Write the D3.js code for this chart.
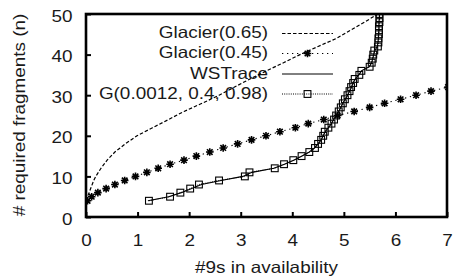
<!DOCTYPE html>
<html>
<head>
<meta charset="utf-8">
<script src="https://cdn.jsdelivr.net/npm/d3@7"></script>
<style>
  body { margin: 0; background: #fff; }
  svg { display: block; }
  text { font-family: "Liberation Sans", Arial, sans-serif; font-size: 16.3px; fill: #1a1a1a; }
</style>
</head>
<body>
<div id="chart"></div>
<script>
const xTicks = [0, 1, 2, 3, 4, 5, 6, 7];
const yTicks = [0, 10, 20, 30, 40, 50];

// Glacier(0.65): dashed curve, (availability, n)
const glacier65V = [0, 0.03, 0.06, 0.09, 0.12, 0.15, 0.19, 0.29, 0.41, 0.56, 0.76, 0.99, 1.29, 1.60, 1.90, 2.25, 2.58, 2.88, 3.18, 3.50, 3.83, 4.15, 4.50, 4.86, 5.13, 5.40, 5.66];
const glacier65N = [4, 5, 6, 7, 8, 9, 10, 12, 14, 16, 18, 20, 22, 24, 26, 28, 30, 32, 34, 36, 38, 40, 42, 44, 46, 48, 50];

// Glacier(0.45): dotted with star markers, n = 4..32
const glacier45V = [0.03, 0.11, 0.23, 0.39, 0.56, 0.75, 0.96, 1.18, 1.40, 1.63, 1.90, 2.14, 2.40, 2.66, 2.94, 3.21, 3.49, 3.76, 4.06, 4.31, 4.61, 4.88, 5.20, 5.50, 5.79, 6.10, 6.40, 6.69, 7.02];
const glacier45N = [4, 5, 6, 7, 8, 9, 10, 11, 12, 13, 14, 15, 16, 17, 18, 19, 20, 21, 22, 23, 24, 25, 26, 27, 28, 29, 30, 31, 32];

// WSTrace: solid, n = 4..50
const wsTraceV = [1.20, 1.60, 1.85, 2.05, 2.24, 2.62, 3.04, 3.22, 3.64, 3.85, 4.03, 4.19, 4.33, 4.43, 4.50, 4.56, 4.60, 4.64, 4.70, 4.76, 4.80, 4.85, 4.90, 4.94, 4.98, 5.03, 5.07, 5.11, 5.15, 5.18, 5.22, 5.29, 5.34, 5.49, 5.54, 5.56, 5.58, 5.60, 5.65, 5.66, 5.67, 5.67, 5.68, 5.68, 5.68, 5.69, 5.69];
// G(0.0012, 0.4, 0.98): dotted with squares, n = 4..50
const gModelV = [1.22, 1.63, 1.83, 2.02, 2.19, 2.58, 3.08, 3.17, 3.66, 3.84, 4.02, 4.18, 4.33, 4.44, 4.50, 4.56, 4.60, 4.63, 4.70, 4.76, 4.81, 4.85, 4.90, 4.94, 4.98, 5.02, 5.07, 5.11, 5.14, 5.18, 5.21, 5.30, 5.34, 5.50, 5.54, 5.56, 5.57, 5.59, 5.66, 5.67, 5.67, 5.68, 5.68, 5.68, 5.69, 5.69, 5.69];
const traceN = d3.range(4, 51);

const width = 456, height = 277;
const margin = { top: 14, right: 9, bottom: 60, left: 86 };
const SX = 1.16; // text in the figure is horizontally stretched

const svg = d3.select("#chart").append("svg")
  .attr("width", width).attr("height", height);

const x = d3.scaleLinear().domain([0, 7]).range([margin.left, width - margin.right]);
const y = d3.scaleLinear().domain([0, 50]).range([height - margin.bottom, margin.top]);

svg.append("clipPath").attr("id", "plot")
  .append("rect")
  .attr("x", x(0)).attr("y", y(50))
  .attr("width", x(7) - x(0)).attr("height", y(0) - y(50));

// axes with inward ticks
const xAxis = svg.append("g")
  .attr("transform", `translate(0,${y(0)})`)
  .call(d3.axisBottom(x).tickValues(xTicks).tickSize(-5).tickPadding(17.5).tickFormat(d3.format("d")));
const yAxis = svg.append("g")
  .attr("transform", `translate(${x(0)},0)`)
  .call(d3.axisLeft(y).tickValues(yTicks).tickSize(-5).tickPadding(11.6).tickFormat(d3.format("d")));

[xAxis, yAxis].forEach((g) => {
  g.select(".domain").remove();
  g.attr("font-family", null).attr("font-size", null);
  g.selectAll(".tick line").attr("stroke", "#000").attr("stroke-width", 2);
  g.selectAll(".tick text").attr("fill", null).attr("transform", `scale(${SX},1)`);
});
yAxis.selectAll(".tick text").attr("dy", "0.44em");

svg.append("text")
  .attr("text-anchor", "middle")
  .attr("transform", `translate(${(x(0) + x(7)) / 2},273) scale(${SX},1)`)
  .text("#9s in availability");

svg.append("text")
  .attr("text-anchor", "middle")
  .attr("transform", `translate(25,115) rotate(-90) scale(${SX},1)`)
  .text("# required fragments (n)");

// legend
const legend = [
  { name: "Glacier(0.65)", dash: "3.5,2", marker: null, yc: 33.5 },
  { name: "Glacier(0.45)", dash: "1.3,3.7", marker: "star", yc: 53.5 },
  { name: "WSTrace", dash: null, marker: null, yc: 74 },
  { name: "G(0.0012, 0.4, 0.98)", dash: "1,1.2", marker: "square", yc: 94 },
];

const starPath = "M-3.8,0H3.8M0,-3.8V3.8M-2.8,-2.8L2.8,2.8M-2.8,2.8L2.8,-2.8";

function drawMarker(g, type, cx, cy) {
  if (type === "star") {
    g.append("path").attr("d", starPath)
      .attr("transform", `translate(${cx},${cy})`)
      .attr("stroke", "#000").attr("stroke-width", 1.6).attr("fill", "none");
  } else if (type === "square") {
    g.append("rect")
      .attr("x", cx - 3.4).attr("y", cy - 3.4)
      .attr("width", 6.8).attr("height", 6.8)
      .attr("stroke", "#000").attr("stroke-width", 1.1).attr("fill", "none");
  }
}

const legendG = svg.append("g");
legend.forEach((d) => {
  legendG.append("text")
    .attr("text-anchor", "end")
    .attr("transform", `translate(268,${d.yc + 4.8}) scale(${SX},1)`)
    .text(d.name);
  legendG.append("line")
    .attr("x1", 282).attr("x2", 333)
    .attr("y1", d.yc).attr("y2", d.yc)
    .attr("stroke", "#000").attr("stroke-width", d.dash === "3.5,2" ? 1.2 : 1)
    .attr("stroke-dasharray", d.dash);
  if (d.marker) drawMarker(legendG, d.marker, 307.5, d.yc);
});

// series
const plot = svg.append("g").attr("clip-path", "url(#plot)");
const line = d3.line().x((d) => x(d[0])).y((d) => y(d[1]));

const g65 = glacier65V.map((v, i) => [v, glacier65N[i]]);
const g45 = glacier45V.map((v, i) => [v, glacier45N[i]]);
const ws = wsTraceV.map((v, i) => [v, traceN[i]]);
const gm = gModelV.map((v, i) => [v, traceN[i]]);

plot.append("path").datum(g65).attr("d", line)
  .attr("fill", "none").attr("stroke", "#000").attr("stroke-width", 1.2)
  .attr("stroke-dasharray", "3.5,2");

plot.append("path").datum(g45).attr("d", line)
  .attr("fill", "none").attr("stroke", "#000").attr("stroke-width", 1.1)
  .attr("stroke-dasharray", "1.3,3.7");
g45.forEach((d) => drawMarker(plot, "star", x(d[0]), y(d[1])));

plot.append("path").datum(ws).attr("d", line)
  .attr("fill", "none").attr("stroke", "#000").attr("stroke-width", 1.1);

plot.append("path").datum(gm).attr("d", line)
  .attr("fill", "none").attr("stroke", "#000").attr("stroke-width", 1)
  .attr("stroke-dasharray", "1,1.2");
gm.forEach((d) => drawMarker(plot, "square", x(d[0]), y(d[1])));

// frame
svg.append("rect")
  .attr("x", x(0)).attr("y", y(50))
  .attr("width", x(7) - x(0)).attr("height", y(0) - y(50))
  .attr("fill", "none").attr("stroke", "#000").attr("stroke-width", 2.6);
</script>
</body>
</html>
